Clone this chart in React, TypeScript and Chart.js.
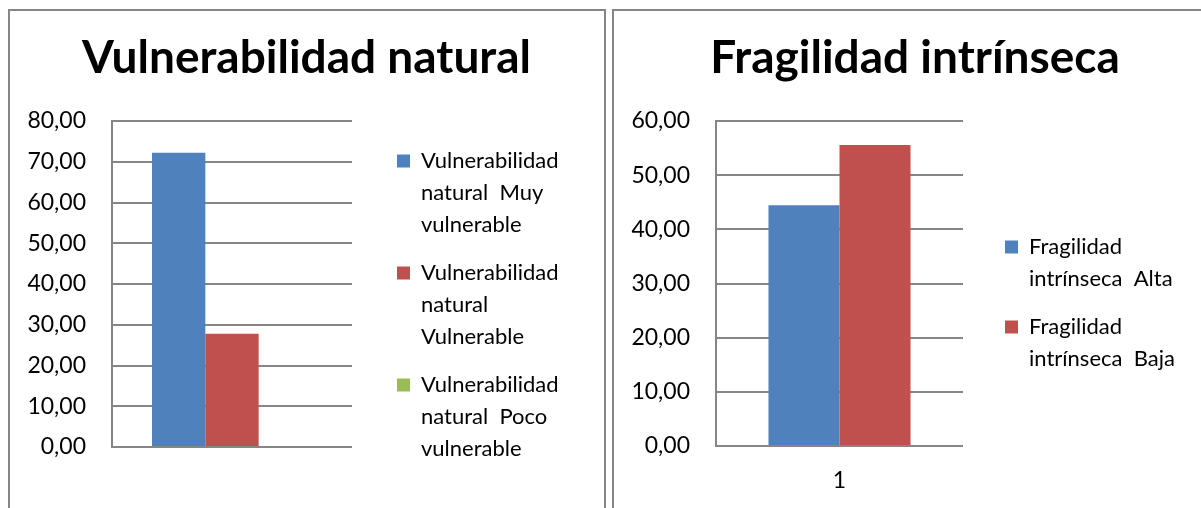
import React, { useEffect, useRef } from 'react';
import { Chart, registerables } from 'chart.js';

Chart.register(...registerables);

// ---------- data ----------
const leftTitle = 'Vulnerabilidad natural';
const leftCategories = ['1'];
const leftSeriesNames = [
  'Vulnerabilidad\nnatural  Muy\nvulnerable',
  'Vulnerabilidad\nnatural\nVulnerable',
  'Vulnerabilidad\nnatural  Poco\nvulnerable',
];
const leftMuyVulnerable = [72.2];
const leftVulnerable = [27.8];
const leftPocoVulnerable = [0];
const leftYTicks = ['0,00', '10,00', '20,00', '30,00', '40,00', '50,00', '60,00', '70,00', '80,00'];

const rightTitle = 'Fragilidad intrínseca';
const rightCategories = ['1'];
const rightSeriesNames = ['Fragilidad\nintrínseca  Alta', 'Fragilidad\nintrínseca  Baja'];
const rightAlta = [44.44];
const rightBaja = [55.56];
const rightYTicks = ['0,00', '10,00', '20,00', '30,00', '40,00', '50,00', '60,00'];

const seriesColors = ['#4F81BD', '#C0504D', '#9BBB59'];

// ---------- styling ----------
const FONT = 'Lato';
const GRID = '#868686';

type Geo = {
  canvasWidth: number;
  yAxisWidth: number;
  plotWidth: number;
  gapWidth: number;
  xAxisHeight: number;
  yMax: number;
  showX: boolean;
  catPct: number;
};

function makeConfig(
  title: string,
  categories: string[],
  names: string[],
  values: number[][],
  yTicks: string[],
  g: Geo
): any {
  return {
    type: 'bar',
    data: {
      labels: categories,
      datasets: values.map((v, i) => ({
        label: names[i],
        data: v,
        backgroundColor: seriesColors[i],
        borderWidth: 0,
        categoryPercentage: g.catPct,
        barPercentage: 1,
      })),
    },
    options: {
      responsive: false,
      maintainAspectRatio: false,
      animation: false,
      events: [],
      layout: { padding: 0 },
      plugins: {
        tooltip: { enabled: false },
        title: {
          display: true,
          text: title,
          color: '#000',
          font: { family: FONT, size: 46, weight: 'bold' },
          padding: { top: 20, bottom: 34.8 },
        },
        legend: {
          display: true,
          position: 'right',
          align: 'center',
          weight: 1000,
          maxWidth: 400,
          labels: {
            boxWidth: 13,
            boxHeight: 13,
            padding: 16,
            color: '#000',
            font: { family: FONT, size: 22, lineHeight: '32px' },
            generateLabels: (chart: any) =>
              Chart.defaults.plugins.legend.labels
                .generateLabels(chart)
                .map((it: any) => ({ ...it, text: String(it.text).split('\n') })),
          },
        },
      },
      scales: {
        x: {
          type: 'category',
          display: true,
          grid: { display: false, drawTicks: false },
          border: { display: false },
          ticks: {
            display: g.showX,
            color: '#000',
            padding: 21,
            font: { family: FONT, size: 23 },
          },
          afterFit: (s: any) => {
            s.height = g.xAxisHeight;
          },
        },
        y: {
          type: 'linear',
          position: 'left',
          min: 0,
          max: g.yMax,
          grid: { color: GRID, lineWidth: 2, drawTicks: false },
          border: { display: true, color: GRID, width: 2 },
          ticks: {
            stepSize: 10,
            color: '#000',
            padding: 26,
            font: { family: FONT, size: 23 },
            callback: (_v: any, i: number) => yTicks[i],
          },
          afterFit: (s: any) => {
            s.width = g.yAxisWidth;
          },
        },
        gap: {
          type: 'linear',
          position: 'right',
          weight: 0,
          display: false,
          afterFit: (s: any) => {
            s.width = g.gapWidth;
          },
        },
        fill: {
          type: 'linear',
          position: 'right',
          weight: 2000,
          display: false,
          afterFit: (s: any) => {
            const legendW = s.chart.legend ? s.chart.legend.width : 0;
            s.width = Math.max(0, g.canvasWidth - g.yAxisWidth - g.plotWidth - g.gapWidth - legendW);
          },
        },
      },
    },
  };
}

function ChartCanvas(props: { config: any; left: number; top: number; width: number; height: number }) {
  const ref = useRef<HTMLCanvasElement | null>(null);
  useEffect(() => {
    if (!ref.current) return;
    const chart = new Chart(ref.current, props.config);
    return () => chart.destroy();
  }, []);
  return (
    <canvas
      ref={ref}
      width={props.width}
      height={props.height}
      style={{
        position: 'absolute',
        left: props.left,
        top: props.top,
        width: props.width,
        height: props.height,
      }}
    />
  );
}

export default function App() {
  const leftConfig = makeConfig(
    leftTitle,
    leftCategories,
    leftSeriesNames,
    [leftMuyVulnerable, leftVulnerable, leftPocoVulnerable],
    leftYTicks,
    {
      canvasWidth: 593,
      yAxisWidth: 102,
      plotWidth: 240,
      gapWidth: 29,
      xAxisHeight: 162,
      yMax: 80,
      showX: false,
      catPct: 2 / 3,
    }
  );
  const rightConfig = makeConfig(
    rightTitle,
    rightCategories,
    rightSeriesNames,
    [rightAlta, rightBaja],
    rightYTicks,
    {
      canvasWidth: 602,
      yAxisWidth: 102,
      plotWidth: 247,
      gapWidth: 26,
      xAxisHeight: 159,
      yMax: 60,
      showX: true,
      catPct: 0.575,
    }
  );
  const border = `2px solid ${GRID}`;
  return (
    <div
      style={{
        position: 'absolute',
        left: 0,
        top: 0,
        width: 1201,
        height: 508,
        overflow: 'hidden',
        background: '#fff',
      }}
    >
      <div
        style={{
          position: 'absolute',
          left: 8,
          top: 9,
          width: 598,
          height: 620,
          boxSizing: 'border-box',
          borderLeft: border,
          borderTop: border,
          borderRight: border,
        }}
      />
      <div
        style={{
          position: 'absolute',
          left: 612,
          top: 9,
          width: 606,
          height: 620,
          boxSizing: 'border-box',
          borderLeft: border,
          borderTop: border,
          borderRight: border,
        }}
      />
      <ChartCanvas config={leftConfig} left={10} top={11} width={593} height={598} />
      <ChartCanvas config={rightConfig} left={614} top={11} width={602} height={594} />
    </div>
  );
}
